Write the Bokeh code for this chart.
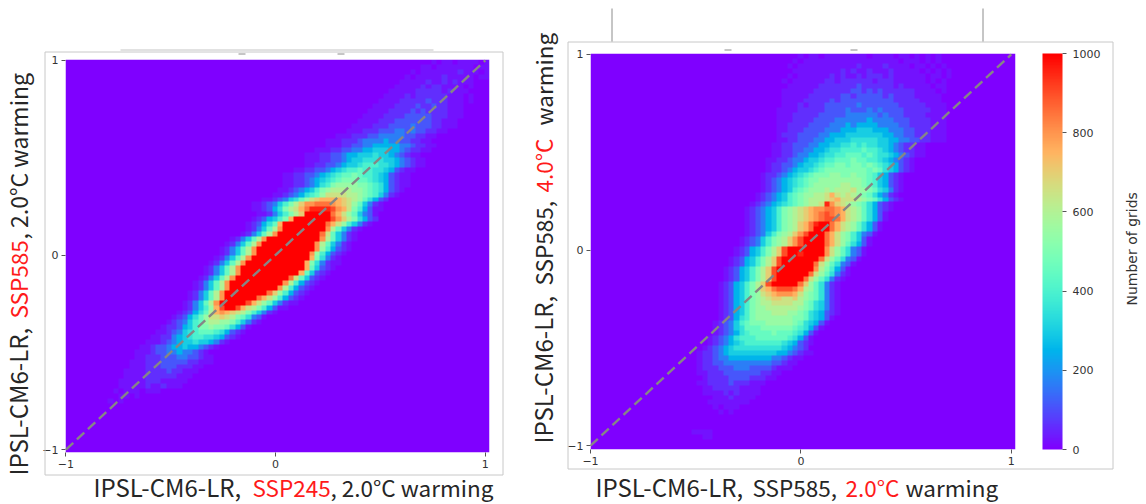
import math
import numpy as np
from bokeh.core.properties import value
from bokeh.embed import file_html
from bokeh.resources import INLINE
from bokeh.layouts import row, column
from bokeh.plotting import figure
from bokeh.models import ColorBar, FixedTicker, LinearColorMapper

# Hand-read heat-map cells: one (start column, levels) per row, top row first.
# Each character is a shade class: 0..9, a..k; LOW_VALUES / step give counts.
LOW_VALUES = {0: 0, 1: 25, 2: 60, 3: 110, 4: 165}
LEVEL_STEP = 50
LEFT_STARTS = [68, 66, 64, 63, 62, 61, 60, 59, 58, 57, 56, 55, 54, 54, 52, 50, 48, 47, 45, 43,
               43, 43, 41, 39, 39, 39, 38, 37, 35, 33, 33, 36, 34, 33, 33, 32, 30, 29, 28, 28,
               27, 26, 25, 25, 24, 23, 23, 22, 22, 21, 21, 20, 19, 18, 18, 16, 15, 14, 13, 12,
               11, 11, 10, 10, 9, 9, 8, 8, 8, 7, 0, 0, 0, 0, 0, 0, 0, 0, 0, 0]
LEFT_ROWS = [
    "010110111101", "01101111111011", "0101111111211101", "01011111211111011",
    "011111211212111", "0111112122111101", "01111122222121110", "011112122222211101",
    "0111122222322211101", "0111122223223221110", "01111222232322221110",
    "011112222333332221110", "0111122233333332211100", "111122233334333221110",
    "01112223334434332211", "011122233444443322110", "0111222344445443322110",
    "00111223344555554432211", "001112233445566655432211", "0011122334556667665432110",
    "00111223345667777665432110", "0011223345667888776543211", "00112233456788988776532110",
    "001122334567899a98876532110", "0011223456789aaa9987653211", "00112234578abbbbaa987532110",
    "0011234568abccccbba9875321", "00112345789bddddccba986421", "0011234679bdeffffedcb97532",
    "001123468acegghhhgfedb96421", "00112357acdfhjjjjigfda85311",
    "112468ace" "kkkkk" "hfdb96431",
    "0123568af" "kkkkkkk" "igeca7532",
    "0123579f" "kkkkkkkk" "hfdb86421",
    "012469cg" "kkkkkkkk" "gc964210",
    "012469cg" "kkkkkkkk" "hd964210",
    "012469cg" "kkkkkkkkkk" "gc96421",
    "012469cg" "kkkkkkkkkk" "gc96421",
    "012469cg" "kkkkkkkkkkk" "gb85321",
    "012469cg" "kkkkkkkkkk" "gb85321",
    "012469cg" "kkkkkkkkkkk" "fa7421",
    "012469cg" "kkkkkkkkkkk" "fa74211",
    "012469cg" "kkkkkkkkkkkk" "f96321",
    "012469cg" "kkkkkkkkkkk" "f96321",
    "012469cg" "kkkkkkkkkk" "hd96321",
    "012469cg" "kkkkkkkkkk" "gc85321",
    "012469cg" "kkkkkkkkk" "gc85321",
    "012469cg" "kkkkkkkk" "heb85321",
    "012469cg" "kkkkkk" "hfdb85321",
    "012469cg" "kkkkk" "ifdb964211",
    "012468bf" "ikk" "ifdca85311",
    "0123579c" "fgf" "edca86421",
    "0123579b" "dde" "dca97431",
    "01234689" "bcc" "bba86421",
    "1223568a" "aba" "a97531",
    "01123467" "899" "9875321",
    "01122456" "788" "7765321",
    "01112345" "667" "665421",
    "0112334" "556" "554321",
    "0111233" "445" "44321",
    "00112223" "334" "433211",
    "0111222" "333" "3322111",
    "0011122" "233" "3222110",
    "011112" "222" "322111",
    "0011112" "222" "221110",
    "011111" "222" "11111",
    "0011111" "211" "21110",
    "0101110111", "0011010", "0101", "", "", "", "", "", "", "", "", "", "",
]

RIGHT_STARTS = [38, 37, 37, 37, 36, 36, 36, 36, 36, 36, 35, 35, 35, 35, 35, 35, 35, 34, 34, 34,
                33, 33, 33, 32, 32, 32, 32, 32, 31, 31, 30, 29, 29, 29, 29, 29, 29, 28, 28, 27,
                27, 26, 26, 25, 25, 25, 24, 24, 24, 24, 24, 24, 24, 24, 23, 23, 23, 22, 22, 21,
                20, 20, 20, 20, 20, 20, 20, 20, 21, 22, 22, 22, 23, 0, 0, 0, 19, 20, 0, 0]
RIGHT_ROWS = [
    "0101101111111101111011010101", "01011111111111111111101110101",
    "101111111111121111211110110101", "0111111111212112111211111010101",
    "01011111121211212221211111101101", "1011111122122222212221111110101",
    "0111111222222232222221211111011", "1111112222222332323222222111101",
    "1111122222233233333232222111110", "1111222223233333333332222211110",
    "01112122233333343333333222221111", "11112222233334333434333322222111",
    "11122222333334444443433322221111", "11122223333444444544443332222111",
    "11222233334445455554444332222111", "11222333344455566655544433222111",
    "12223333445556666666554433222111", "011223334455666777776655443322111",
    "11223334455667787877665432211", "11223344556778888988765432211",
    "011223445567788999898776543211", "1122344566788999a99887654321",
    "1223345667899aa9aa9a98765321", "012234566789aaaaaaaa9a9765321",
    "1223456789aaabbaabaa9865321", "123456789aabbbbbbbba9865321",
    "123456789abbbbbccbba9865321", "12345689abbbcbcccdbba976421",
    "12345689abbccdfdcdcba975421", "12345689abcccdefdddcba975321",
    "123456789abccd" "j" "gedcba975321", "1234568abcdefgghhgfdcb975321",
    "1234568abcdefghihgfdcb97531", "1234568abcdefghiihfdcb97531",
    "1234568abcefhj" "kk" "hfdcb97531", "1234568abcefh" "kkk" "hfdcb97531",
    "123468abcegi" "kkk" "hfdba86431",
    "123468abcegi" "kkkk" "hfdba8631",
    "123468abcegi" "kkkk" "hfdb97531",
    "123568acei" "kkkkkkk" "gdb97431",
    "123568acei" "kkjkkkk" "gdb97431",
    "123568acei" "kkkkkkk" "hdb97431",
    "123568acei" "kkkkkk" "hdb97431",
    "123568acei" "kkkkkkk" "gca8531",
    "123568acei" "kkkkkk" "hdb97421",
    "123568acei" "kkkkk" "hdb97421",
    "123568acei" "kkkkk" "heb97421",
    "123568acef" "hiiih" "fcb97421",
    "123568abde" "fgggf" "dba97421",
    "123568abcd" "eedde" "cba97421",
    "123568abcc" "ddddc" "ca976421",
    "123568abbc" "ccccc" "ba976421",
    "123568abbb" "cccbb" "a9765321",
    "123578abbb" "bbbba" "a976531",
    "1234689aaa" "bbbbb" "a976531",
    "123467999a" "aaaaa" "987531",
    "123457899" "99a99" "987531",
    "1234578889" "99999" "87531",
    "123456788" "88888" "765321",
    "1234567777" "7777" "765432",
    "12234566666" "6666" "5543211",
    "1223445555" "555" "5443211",
    "1223344444" "444" "433211",
    "122233344" "433" "332111",
    "11222333" "333" "32211",
    "0122223" "333" "22211",
    "112222" "322" "2111",
    "011222" "22" "1111",
    "1111212" "11" "11",
    "0111211110", "111111110", "0101110", "01010",
    "", "", "", "1111", "011", "", "",
]

DIAGONAL = [-1, 1]
AXIS_TICKS = [-1, 0, 1]
BAR_TICKS = [0, 200, 400, 600, 800, 1000]
NAME = "IPSL-CM6-LR,"
BAR_TITLE = "Number of grids"
PAGE_W, PAGE_H = 1146, 500
SHEET_H = 504
BIG = "Noto Sans CJK JP"
DARK = "#262626"
RED = "#ff1a1a"
GRID = "#c8c8c8"


def decode(starts, rows, n=80):
    grid = np.zeros((n, n))
    for r, (s, text) in enumerate(zip(starts, rows)):
        for i, ch in enumerate(text):
            if s + i < n:
                lvl = int(ch, 21)
                grid[r, s + i] = LOW_VALUES.get(lvl, lvl * LEVEL_STEP)
    return grid[::-1]


def rainbow(n=256):
    out = []
    for i in range(n):
        t = i / (n - 1)
        r = abs(2 * t - 0.5)
        g = math.sin(math.pi * t)
        b = math.cos(math.pi * t / 2)
        out.append("#%02x%02x%02x" % (int(min(r, 1) * 255), int(g * 255), int(b * 255)))
    return out


mapper = LinearColorMapper(palette=rainbow(), low=0, high=1000)


def panel(grid, page_left, width, f_left, f_right, f_top, f_bottom, xr, yr, **kw):
    p = figure(width=width, height=PAGE_H, x_range=xr, y_range=yr,
               output_backend="svg", toolbar_location=None,
               min_border_left=f_left - page_left, min_border_right=page_left + width - f_right,
               min_border_top=f_top, min_border_bottom=PAGE_H - f_bottom,
               frame_width=f_right - f_left, frame_height=f_bottom - f_top, **kw)
    p.image(image=[grid], x=xr[0], y=yr[0], dw=xr[1] - xr[0], dh=yr[1] - yr[0], color_mapper=mapper)
    p.line(DIAGONAL, DIAGONAL, line_color="#868686", line_width=2.4, line_dash="10 5")
    p.grid.visible = False
    p.outline_line_color = None
    for ax in (p.xaxis[0], p.yaxis[0]):
        ax.ticker = FixedTicker(ticks=AXIS_TICKS)
        ax.axis_line_color = None
        ax.major_tick_in = 0
        ax.major_tick_out = 4
        ax.minor_tick_line_color = None
        ax.major_tick_line_color = "#555555"
        ax.major_label_text_font = "DejaVu Sans"
        ax.major_label_text_font_size = "11px"
        ax.major_label_text_color = "#333333"
        ax.major_label_standoff = 3
    p.yaxis[0].major_label_orientation = "horizontal"
    return p


pa = panel(decode(LEFT_STARTS, LEFT_ROWS), 0, 528, 65, 489, 59, 452,
           (-1.002, 1.02), (-1.015, 1.005))
# A row lines its figures up by their tops; this one sits 6px higher in the reference.
pb = panel(decode(RIGHT_STARTS, RIGHT_ROWS), 528, 618, 590, 1015, 59, 455,
           (-1.0, 1.02), (-1.02, 1.005), styles={"transform": "translateY(-6px)"})
bar = ColorBar(color_mapper=mapper, ticker=FixedTicker(ticks=BAR_TICKS), width=20, height=396,
               padding=0, margin=0, location=(27, 0), bar_line_color=None,
               major_tick_in=0, major_tick_out=4, major_tick_line_color="#555555",
               minor_tick_line_color=None, label_standoff=6,
               major_label_text_font="DejaVu Sans", major_label_text_font_size="11px",
               major_label_text_color="#333333", background_fill_color=None,
               border_line_color=None)
pb.add_layout(bar, "right")

# Transparent page-sized sheet above the panels: boxes round the panels and the coloured captions.
sheet = figure(width=PAGE_W, height=SHEET_H, x_range=(0, PAGE_W), y_range=(SHEET_H, 0),
               output_backend="svg", toolbar_location=None, x_axis_location=None,
               y_axis_location=None, min_border=0, margin=(-PAGE_H, 0, 0, 0),
               background_fill_color=None, border_fill_color=None,
               frame_width=PAGE_W, frame_height=SHEET_H)
sheet.grid.visible = False
sheet.outline_line_color = None


def box(x0, y0, x1, y1, color=GRID):
    sheet.line([x0, x1, x1, x0, x0], [y0, y0, y1, y1, y0], line_color=color, line_width=1)


def seg(x0, y0, x1, y1, color="#8c8c8c", width=1):
    sheet.line([x0, x1], [y0, y1], line_color=color, line_width=width)


def cap(px, py, s, color=DARK, angle=0.0, size="22.5px", font=BIG):
    sheet.text([px], [py], text=[s], text_color=color, angle=angle, text_font=value(font),
               text_font_size=size, text_baseline="middle", text_align="left")


box(44.5, 51.5, 502.5, 474.5)
seg(120, 49.5, 433, 49.5, color="#c4c4c4")
seg(238, 53.5, 245, 53.5)
seg(337, 53.5, 344, 53.5)
box(567.5, 41.5, 1112.5, 468.5)
seg(611.5, 8, 611.5, 41)
seg(982.5, 8, 982.5, 41)
seg(724, 49.5, 731, 49.5)
seg(850, 49.5, 857, 49.5)

up = math.pi / 2
NAME_SIZE = "24px"
cap(93, 486, NAME, size=NAME_SIZE)
cap(252, 486, "SSP245", RED)
cap(330, 486, ", 2.0°C warming")
cap(17, 475, NAME, angle=up, size=NAME_SIZE)
cap(17, 318, "SSP585", RED, angle=up)
cap(17, 239, ", 2.0°C warming", angle=up, size="23px")
cap(595, 486, NAME, size=NAME_SIZE)
cap(752, 486, "SSP585,")
cap(845, 486, "2.0°C", RED)
cap(905, 486, "warming")
cap(542, 443, NAME, angle=up, size=NAME_SIZE)
cap(542, 285, "SSP585,", angle=up)
cap(542, 192, "4.0°C", RED, angle=up)
cap(542, 125, "warming", angle=up)
cap(1131, 305, BAR_TITLE, color="#333333", angle=up, size="14px", font="DejaVu Sans")

page = column(row(pa, pb, spacing=0), sheet, spacing=0)
open("out.html", "w").write(file_html(page, INLINE))
